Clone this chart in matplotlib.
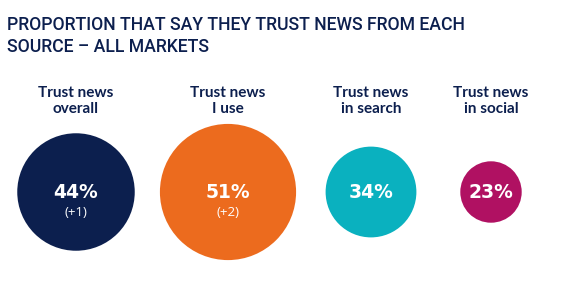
import matplotlib.pyplot as plt
from matplotlib.patches import Circle

# data
labels = ["Trust news\noverall", "Trust news\nI use", "Trust news\nin search", "Trust news\nin social"]
values = [44, 51, 34, 23]
changes = ["(+1)", "(+2)", "", ""]

# layout / style
colors = ["#0c1f4e", "#ec6b1e", "#0ab1bf", "#b01162"]
centers_x = [76, 228, 371, 491]
center_y = 192
px_per_point = 1.335
navy = "#0c1f4e"

plt.rcParams['font.family'] = ['Roboto', 'DejaVu Sans']

fig = plt.figure(figsize=(5.61, 2.87), dpi=100)
ax = fig.add_axes([0, 0, 1, 1])
ax.set_xlim(0, 561)
ax.set_ylim(287, 0)
ax.set_aspect('equal')
ax.axis('off')

fig.text(7 / 561, 1 - 25 / 287, "PROPORTION THAT SAY THEY TRUST NEWS FROM EACH",
         fontsize=12.7, color=navy, fontweight='medium', va='center', ha='left')
fig.text(7 / 561, 1 - 47 / 287, "SOURCE \u2013 ALL MARKETS",
         fontsize=12.7, color=navy, fontweight='medium', va='center', ha='left')

for i in range(len(values)):
    cx = centers_x[i]
    r = values[i] * px_per_point
    ax.add_patch(Circle((cx, center_y), r, color=colors[i], lw=0))
    ax.text(cx, 101, labels[i], ha='center', va='center', fontsize=11,
            fontweight='bold', color=navy, linespacing=1.18, family='Lato')
    ax.text(cx, center_y, f"{values[i]}%", ha='center', va='center',
            fontsize=13.5, fontweight='bold', color='white', family='DejaVu Sans')
    if changes[i]:
        ax.text(cx, 212, changes[i], ha='center', va='center',
                fontsize=9.5, color='white', family='Open Sans')

fig.savefig("out.png", dpi=100)
